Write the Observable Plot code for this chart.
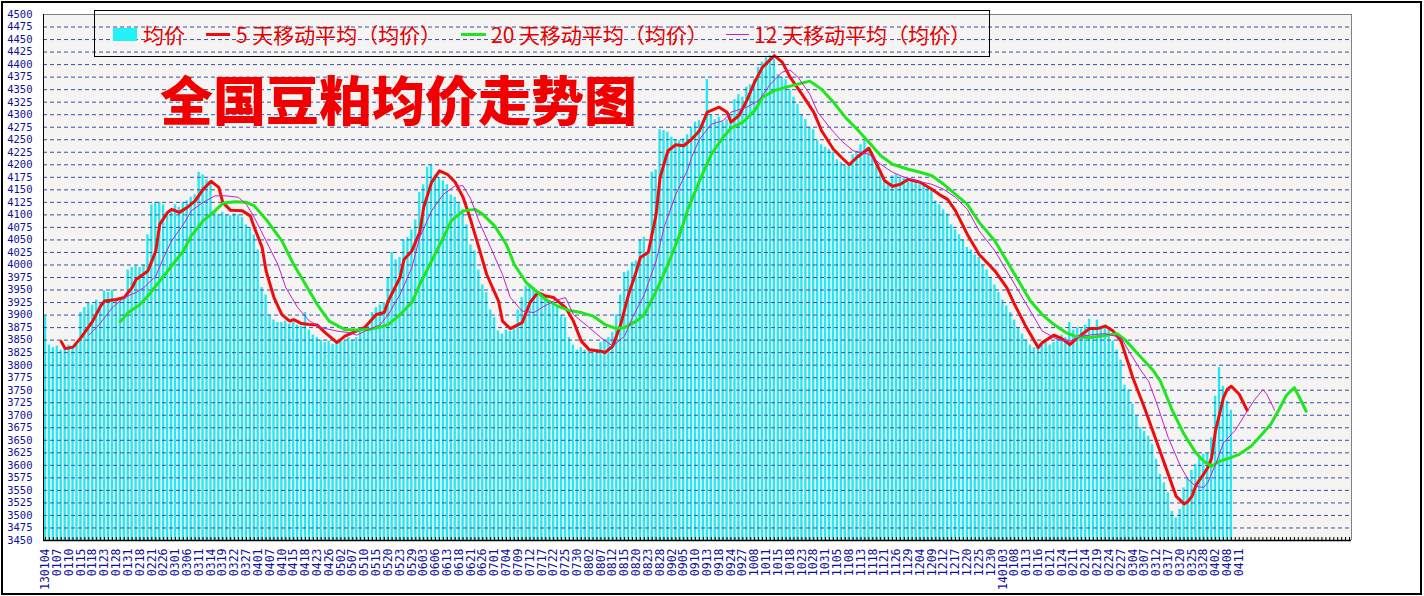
<!DOCTYPE html>
<html><head><meta charset="utf-8">
<script src="https://cdn.jsdelivr.net/npm/d3@7"></script>
<script src="https://cdn.jsdelivr.net/npm/@observablehq/plot@0.6"></script>
<style>
body{margin:0;background:#fff;}
#wrap{position:relative;width:1424px;height:596px;overflow:hidden;background:#fff;}
#wrap svg{position:absolute;left:0;top:0;}
.ov{position:absolute;}
#border{left:1px;top:1px;width:1421px;height:594px;border:2px solid #000;box-sizing:border-box;}
#legend{left:94px;top:10px;width:896px;height:47px;border:1px solid #000;box-sizing:border-box;}
.lt{position:absolute;font-family:"Noto Sans CJK SC";font-size:21px;line-height:21px;color:#e60000;white-space:nowrap;top:13px;}
.sw{position:absolute;}
#title{left:160px;top:70px;font-family:"Noto Sans CJK SC";font-weight:900;font-size:53px;line-height:56px;color:#f00000;white-space:nowrap;}
</style></head>
<body><div id="wrap"></div>
<script>
// x-axis date labels (one label every 3 trading days)
const dateLabels = ["130104","0107","0110","0115","0118","0123","0128","0131","0218","0221","0226","0301","0306","0311","0314","0319","0322","0327","0401","0407","0410","0415","0418","0423","0426","0502","0507","0510","0515","0520","0523","0529","0603","0606","0613","0618","0621","0626","0701","0704","0709","0712","0717","0722","0725","0730","0802","0807","0812","0815","0820","0823","0828","0902","0905","0910","0913","0918","0924","0927","1008","1011","1015","1018","1023","1028","1031","1105","1108","1113","1118","1121","1126","1129","1204","1209","1212","1217","1220","1225","1230","140103","0108","0113","0116","0121","0124","0211","0214","0219","0224","0227","0304","0307","0312","0317","0320","0325","0328","0402","0408","0411"];

// 均价 (daily average price), one value per trading day
const avgPrice = [
3898,3840,3835,3838,3830,3835,3840,3838,3842,3905,
3915,3925,3920,3930,3925,3948,3945,3950,3930,3928,
3935,3990,3995,3998,3995,4000,4060,4120,4125,4125,
4120,4100,4110,4120,4115,4125,4128,4135,4140,4185,
4180,4170,4165,4105,4100,4105,4100,4098,4102,4100,
4095,4080,4075,4060,4030,3955,3940,3900,3890,3885,
3885,3888,3882,3885,3880,3878,3905,3870,3860,3855,
3850,3845,3848,3842,3845,3850,3848,3855,3850,3855,
3870,3865,3878,3905,3915,3920,3925,3975,4025,4010,
4015,4050,4055,4070,4090,4145,4160,4195,4200,4180,
4175,4168,4160,4140,4135,4125,4110,4080,4040,4028,
3990,3960,3945,3910,3895,3868,3862,3870,3868,3872,
3910,3935,3958,3960,3955,3948,3940,3935,3925,3920,
3915,3900,3895,3855,3840,3830,3835,3830,3828,3832,
3830,3845,3850,3855,3865,3900,3940,3985,3988,4005,
4008,4050,4055,4020,4185,4190,4270,4268,4265,4255,
4250,4248,4252,4260,4275,4285,4288,4280,4370,4300,
4290,4295,4285,4290,4300,4330,4340,4335,4355,4360,
4370,4395,4405,4415,4418,4410,4380,4375,4370,4350,
4335,4320,4300,4290,4275,4270,4248,4240,4235,4230,
4225,4210,4205,4200,4198,4220,4222,4240,4248,4235,
4215,4200,4180,4165,4160,4178,4180,4172,4175,4170,
4168,4170,4160,4158,4155,4150,4128,4120,4110,4102,
4080,4070,4060,4050,4035,4030,4020,4015,4000,3990,
3975,3960,3945,3930,3918,3905,3890,3875,3862,3850,
3840,3835,3838,3842,3845,3840,3845,3858,3860,3855,
3885,3870,3875,3872,3880,3892,3870,3890,3875,3880,
3870,3848,3830,3810,3760,3750,3722,3700,3675,3668,
3658,3642,3612,3582,3565,3545,3508,3495,3512,3555,
3575,3590,3602,3615,3622,3625,3655,3738,3795,3758,
3728,3710];

// moving averages: [day index, value]
const ma5 = [[4,3847],[5,3833],[7,3836],[9,3855],[12,3888],[14,3918],[15,3928],[18,3931],[20,3935],[22,3955],[23,3971],[26,3988],[28,4028],[29,4081],[31,4105],[32,4111],[34,4105],[36,4115],[38,4128],[40,4151],[42,4167],[44,4155],[45,4125],[47,4109],[50,4108],[52,4098],[53,4075],[55,4035],[56,3988],[58,3935],[60,3901],[62,3888],[63,3891],[65,3883],[67,3881],[69,3880],[71,3865],[74,3845],[76,3858],[78,3865],[81,3875],[84,3901],[86,3905],[87,3928],[90,3975],[91,4011],[93,4028],[95,4065],[96,4115],[98,4165],[100,4188],[102,4181],[104,4165],[106,4135],[108,4088],[110,4035],[112,3981],[115,3928],[116,3888],[118,3873],[121,3885],[123,3925],[125,3945],[127,3938],[129,3935],[132,3915],[134,3888],[136,3848],[138,3831],[141,3828],[142,3825],[144,3838],[146,3881],[148,3941],[150,3988],[151,4015],[153,4025],[155,4101],[156,4175],[158,4228],[160,4240],[162,4238],[164,4251],[166,4268],[168,4305],[171,4315],[173,4305],[174,4285],[176,4298],[178,4328],[180,4365],[182,4395],[185,4418],[187,4405],[189,4375],[192,4341],[195,4305],[197,4268],[200,4231],[202,4215],[204,4200],[206,4215],[209,4233],[211,4201],[213,4168],[215,4157],[217,4161],[219,4171],[222,4165],[225,4151],[227,4140],[229,4131],[231,4108],[234,4061],[237,4021],[241,3988],[244,3955],[246,3921],[249,3875],[252,3835],[253,3845],[256,3860],[258,3853],[260,3841],[262,3855],[265,3873],[267,3873],[269,3878],[271,3868],[273,3848],[275,3800],[276,3775],[279,3714],[281,3670],[283,3626],[285,3582],[287,3538],[289,3523],[290,3528],[291,3538],[292,3560],[294,3583],[295,3595],[296,3615],[297,3670],[299,3735],[300,3752],[301,3758],[303,3742],[305,3710]];

const ma20 = [[19,3887],[21,3905],[24,3921],[26,3938],[29,3968],[32,3998],[35,4028],[37,4058],[40,4088],[43,4108],[45,4123],[48,4126],[51,4125],[53,4118],[56,4091],[60,4048],[63,4001],[66,3961],[69,3921],[72,3888],[76,3871],[79,3870],[82,3871],[85,3876],[87,3881],[90,3901],[93,3925],[95,3961],[98,4008],[101,4055],[103,4088],[106,4108],[109,4111],[111,4101],[114,4078],[117,4041],[119,4001],[122,3965],[125,3945],[127,3931],[130,3918],[133,3909],[136,3905],[139,3898],[142,3881],[145,3873],[147,3875],[150,3888],[152,3901],[155,3948],[158,4001],[161,4061],[163,4110],[166,4168],[169,4221],[172,4255],[174,4273],[177,4285],[180,4308],[182,4335],[185,4348],[188,4355],[191,4361],[194,4367],[197,4351],[200,4325],[203,4295],[206,4271],[209,4245],[212,4218],[215,4201],[219,4191],[222,4185],[225,4178],[228,4161],[231,4141],[234,4121],[237,4085],[241,4048],[244,4008],[247,3968],[250,3928],[253,3901],[256,3881],[259,3865],[262,3856],[265,3855],[268,3858],[272,3863],[274,3851],[277,3825],[281,3791],[283,3768],[286,3710],[289,3662],[292,3625],[294,3608],[296,3598],[298,3608],[301,3616],[303,3622],[306,3638],[308,3655],[311,3682],[313,3710],[315,3740],[317,3755],[318,3740],[320,3708]];

const ma12 = [[11,3860],[13,3875],[15,3895],[17,3915],[20,3935],[23,3945],[25,3955],[28,3978],[30,4015],[32,4048],[35,4081],[37,4108],[40,4125],[43,4138],[46,4138],[49,4135],[51,4121],[53,4095],[56,4048],[59,4001],[61,3955],[64,3915],[67,3888],[70,3875],[74,3868],[77,3865],[79,3860],[82,3871],[85,3881],[87,3901],[90,3941],[93,3995],[95,4055],[98,4108],[101,4141],[104,4158],[106,4158],[108,4131],[110,4088],[113,4035],[116,3981],[118,3935],[121,3908],[124,3905],[126,3915],[129,3928],[132,3935],[134,3901],[138,3875],[141,3855],[144,3838],[147,3858],[149,3895],[152,3941],[155,4008],[157,4075],[160,4141],[163,4190],[164,4215],[166,4251],[169,4281],[172,4288],[174,4305],[178,4315],[181,4328],[184,4361],[187,4385],[189,4389],[191,4375],[194,4341],[196,4305],[199,4275],[202,4248],[205,4228],[209,4221],[212,4201],[215,4185],[218,4175],[221,4168],[225,4161],[228,4151],[231,4135],[234,4111],[237,4068],[241,4028],[244,3988],[247,3948],[250,3908],[253,3868],[257,3851],[260,3848],[263,3858],[266,3861],[269,3863],[273,3855],[275,3828],[278,3790],[280,3768],[282,3725],[285,3655],[288,3600],[290,3572],[292,3558],[294,3556],[295,3565],[297,3602],[299,3645],[302,3670],[305,3708],[307,3732],[309,3751],[310,3742],[312,3710]];

const yTicks = d3.range(3450, 4501, 25);
const gridTicks = d3.range(3475, 4500, 25);
const slotCount = 332;

const bars = avgPrice.map((v, i) => ({i, v}));
const slots = d3.range(slotCount);

const plot = Plot.plot({
  width: 1424, height: 596,
  marginLeft: 43, marginRight: 73, marginTop: 14, marginBottom: 56,
  x: {domain: [-0.5, slotCount - 0.5], axis: null},
  y: {domain: [3450, 4500], axis: null},
  style: {background: "transparent", overflow: "visible"},
  marks: [
    Plot.frame({fill: "#f5f4f3", stroke: null}),
    Plot.rectY(bars, {x1: d => d.i - 0.3, x2: d => d.i + 0.3, y1: 3450, y2: "v", fill: "#26e8f2"}),
    Plot.ruleY(gridTicks, {stroke: "#3550aa", strokeWidth: 1, strokeDasharray: "4,3"}),
    Plot.line(ma5, {x: d => d[0], y: d => d[1], stroke: "#ee0d0d", strokeWidth: 3, strokeLinejoin: "round", strokeLinecap: "round"}),
    Plot.line(ma20, {x: d => d[0], y: d => d[1], stroke: "#1fe61f", strokeWidth: 3, strokeLinejoin: "round", strokeLinecap: "round"}),
    Plot.line(ma12, {x: d => d[0], y: d => d[1], stroke: "#c81ec8", strokeWidth: 1}),
    Plot.ruleY([4500], {stroke: "#808080", strokeWidth: 1}),
    Plot.ruleX([slotCount - 0.5], {stroke: "#808080", strokeWidth: 1}),
    Plot.ruleX(slots, {x: d => d, y1: 3450, y2: 3456, stroke: "#000", strokeWidth: 1}),
    Plot.ruleY([3450], {stroke: "#000", strokeWidth: 1.5}),
    Plot.ruleX([-0.5], {stroke: "#000", strokeWidth: 1}),
    Plot.text(yTicks, {x: -0.5, y: d => d, text: d => String(d), textAnchor: "end", dx: -11, fill: "#10109a", fontSize: 10.5, fontFamily: "DejaVu Sans Mono"}),
    Plot.text(dateLabels, {x: (d, k) => 3 * k, y: 3450, text: d => d, rotate: -90, textAnchor: "end", dy: 8, fill: "#10109a", fontSize: 11.5, fontFamily: "DejaVu Sans Mono"})
  ]
});

const wrap = document.getElementById("wrap");
wrap.appendChild(plot);

function ov(html) { wrap.insertAdjacentHTML("beforeend", html); }
ov('<div id="title" class="ov">全国豆粕均价走势图</div>');
ov('<div id="legend" class="ov">' +
   '<div class="sw" style="left:18px;top:17px;width:24px;height:13px;background:#22f2f6"></div>' +
   '<div class="lt" style="left:48px">均价</div>' +
   '<div class="sw" style="left:111px;top:22px;width:24px;height:3px;background:#ee0d0d"></div>' +
   '<div class="lt" style="left:141px">5 天移动平均（均价）</div>' +
   '<div class="sw" style="left:366px;top:22px;width:25px;height:3px;background:#1fe61f"></div>' +
   '<div class="lt" style="left:396px">20 天移动平均（均价）</div>' +
   '<div class="sw" style="left:631px;top:23px;width:23px;height:1px;background:#c81ec8"></div>' +
   '<div class="lt" style="left:659px">12 天移动平均（均价）</div>' +
   '</div>');
ov('<div id="border" class="ov"></div>');
</script>
</body></html>
